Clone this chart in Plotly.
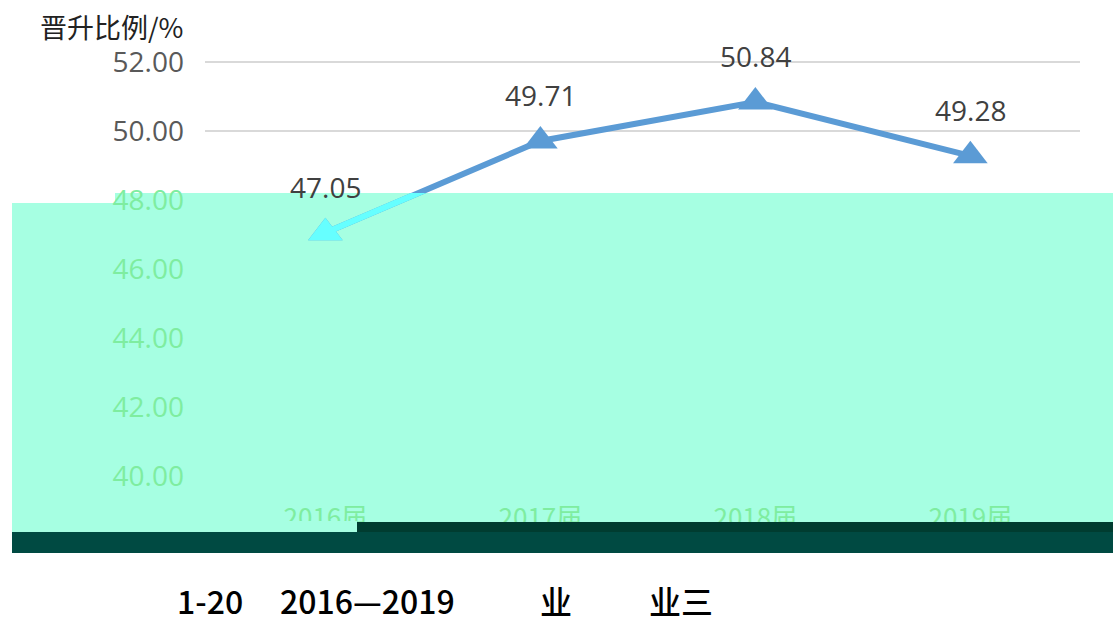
import plotly.graph_objects as go

# ---- data ----
categories = ["2016届", "2017届", "2018届", "2019届"]
values = [47.05, 49.71, 50.84, 49.28]
y_ticks = [40, 42, 44, 46, 48, 50, 52]
y_title = "晋升比例/%"
caption_parts = ["1-20", "2016—2019", "业", "业三"]

# ---- layout geometry (pixels) ----
W, H = 1113, 622
L, R, T, B = 205, 33, 52, 122
PW, PH = W - L - R, H - T - B
Y_RANGE = [39.3, 52.29]
X_RANGE = [-0.56, 3.51]


def px(x):
    return (x - L) / PW


def py(y):
    return (H - B - y) / PH


GREEN = "#7EEDA0"
GRAY = "#595959"
BLUE = "#5B9BD5"
CYAN_LINE = "#66FFFF"
MINT = "#A6FFE2"

cut_px = 193  # top of overlay inside plot
dom_top = py(cut_px)
y2_top = Y_RANGE[0] + (Y_RANGE[1] - Y_RANGE[0]) * dom_top

tick_text = []
for t in y_ticks:
    col = GREEN if t <= 48 else GRAY
    tick_text.append(f"<span style='color:{col}'>{t:.2f}</span>")
grid_ticks = [t for t in y_ticks if t >= 50]

fig = go.Figure()
fig.add_trace(go.Scatter(
    x=categories, y=values, mode="lines+markers",
    line=dict(color=BLUE, width=6),
    marker=dict(symbol="triangle-up", size=30, color=BLUE),
    xaxis="x", yaxis="y", showlegend=False, hoverinfo="skip",
))
fig.add_trace(go.Scatter(
    x=categories, y=values, mode="lines+markers",
    line=dict(color=CYAN_LINE, width=6),
    marker=dict(symbol="triangle-up", size=30, color=CYAN_LINE),
    xaxis="x2", yaxis="y2", showlegend=False, hoverinfo="skip",
))

annotations = []
for c, v in zip(categories, values):
    annotations.append(dict(
        x=c, y=v, xref="x", yref="y", text=f"{v:.2f}", showarrow=False,
        yshift=46, font=dict(family="Open Sans", size=28, color="#404040"),
    ))

annotations.append(dict(
    x=px(38), y=py(26), xref="paper", yref="paper", text=y_title,
    showarrow=False, xanchor="left", yanchor="middle",
    font=dict(family="Noto Sans CJK SC", size=27, color="#222222"),
))

cap_x = [175, 278, 538, 647]
for txt, cx in zip(caption_parts, cap_x):
    annotations.append(dict(
        x=px(cx), y=py(600), xref="paper", yref="paper", text=txt,
        showarrow=False, xanchor="left", yanchor="middle",
        font=dict(family="Noto Sans CJK SC", size=32, color="#000000", weight=500),
    ))

shapes = [
    dict(type="rect", xref="paper", yref="paper", layer="below",
         x0=px(12), x1=px(W), y0=py(522), y1=py(203),
         fillcolor=MINT, line=dict(width=0)),
    dict(type="rect", xref="paper", yref="paper", layer="below",
         x0=px(115), x1=px(W), y0=py(204), y1=py(cut_px),
         fillcolor=MINT, line=dict(width=0)),
    dict(type="rect", xref="paper", yref="paper", layer="above",
         x0=px(12), x1=px(357), y0=py(532), y1=py(521),
         fillcolor=MINT, line=dict(width=0)),
    dict(type="rect", xref="paper", yref="paper", layer="above",
         x0=px(357), x1=px(W), y0=py(532), y1=py(522),
         fillcolor="#003C30", line=dict(width=0)),
    dict(type="rect", xref="paper", yref="paper", layer="above",
         x0=px(12), x1=px(W), y0=py(553), y1=py(532),
         fillcolor="#004A42", line=dict(width=0)),
]

fig.update_layout(
    width=W, height=H,
    margin=dict(l=L, r=R, t=T, b=B),
    paper_bgcolor="white", plot_bgcolor="rgba(0,0,0,0)",
    xaxis=dict(
        range=X_RANGE, showgrid=False, zeroline=False, showline=False,
        ticks="", tickfont=dict(family="Noto Sans CJK SC", size=26, color=GREEN),
    ),
    yaxis=dict(
        range=Y_RANGE, tickvals=y_ticks, ticktext=tick_text,
        showgrid=False, zeroline=False, showline=False, ticks="",
        ticklabelstandoff=20,
        tickfont=dict(family="Open Sans", size=28, color=GRAY),
    ),
    yaxis3=dict(range=Y_RANGE, overlaying="y", tickvals=grid_ticks,
                showticklabels=False, showgrid=True, gridcolor="#D9D9D9",
                gridwidth=1.5, zeroline=False, ticks=""),
    xaxis2=dict(range=X_RANGE, domain=[0, 1], anchor="y2", visible=False,
                showgrid=False, zeroline=False),
    yaxis2=dict(range=[Y_RANGE[0], y2_top], domain=[0, dom_top], anchor="x2",
                visible=False, showgrid=False, zeroline=False),
    annotations=annotations,
    shapes=shapes,
)
# grid-only overlay trace so yaxis3 is drawn
fig.add_trace(go.Scatter(x=[categories[0]], y=[values[0]], xaxis="x", yaxis="y3",
                         mode="markers", marker=dict(opacity=0), showlegend=False,
                         hoverinfo="skip"))

fig.write_html("out.html", config={"displayModeBar": False},
               post_script="document.body.style.margin='0';")
